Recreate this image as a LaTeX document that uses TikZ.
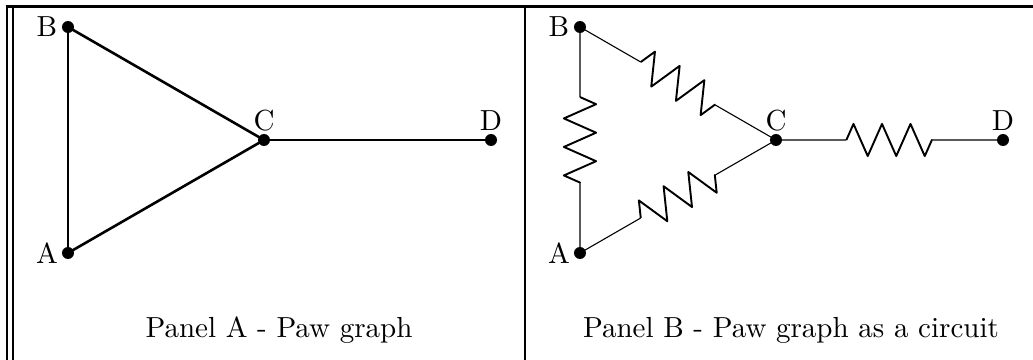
\documentclass[tikz,border=0pt]{standalone}
\usetikzlibrary{calc,decorations.pathmorphing}

\tikzset{
  vertex/.style={circle,fill=black,inner sep=0pt,minimum size=4.4pt},
  edgeline/.style={line width=0.95pt},
  wire/.style={line width=0.4pt},
  resistor/.style={line width=0.7pt,line join=round,decorate,decoration={zigzag,amplitude=5.9pt,segment length=10.45pt}},
  framing/.style={line width=0.8pt},
  vlabel/.style={inner sep=0pt,font=\fontsize{10.64}{12}\selectfont,anchor=base},
  caption/.style={inner sep=0pt,font=\fontsize{10.64}{12}\selectfont,anchor=base},
}

\begin{document}
\begin{tikzpicture}[x=0.3666pt,y=-0.3666pt]
\useasboundingbox (0,0) rectangle (1033,360);
% frame
\coordinate (tl) at (6,6.5);
\coordinate (tr) at (1033,6.5);
\coordinate (ol) at (7,6);
\coordinate (bl) at (7,360);
\coordinate (il) at (13,6);
\coordinate (ib) at (13,360);
\coordinate (mt) at (525,6);
\coordinate (mb) at (525,360);
\draw[framing,line width=1.1pt] (tl) -- (tr);
\draw[framing] (ol) -- (bl);
\draw[framing] (il) -- (ib);
\draw[framing] (mt) -- (mb);
% panel A
\node[vertex] (a1) at (68,253) {};
\node[vertex] (b1) at (68,27) {};
\node[vertex] (c1) at (264,140) {};
\node[vertex] (d1) at (491,140) {};
\node[vlabel] (la1) at (47,263) {A};
\node[vlabel] (lb1) at (47,37) {B};
\node[vlabel] (lc1) at (264,130) {C};
\node[vlabel] (ld1) at (491,130) {D};
\draw[edgeline] (a1.center) -- (b1.center);
\draw[edgeline] (b1.center) -- (c1.center);
\draw[edgeline] (a1.center) -- (c1.center);
\draw[edgeline] (c1.center) -- (d1.center);
\node[caption] (capa) at (279,337) {Panel A - Paw graph};
% panel B
\node[vertex] (a2) at (580,253) {};
\node[vertex] (b2) at (580,27) {};
\node[vertex] (c2) at (776,140) {};
\node[vertex] (d2) at (1003,140) {};
\node[vlabel] (la2) at (559,263) {A};
\node[vlabel] (lb2) at (559,37) {B};
\node[vlabel] (lc2) at (776,130) {C};
\node[vlabel] (ld2) at (1003,130) {D};
\coordinate (ba1) at ($(b2)!0.31!(a2)$);
\coordinate (ba2) at ($(b2)!0.69!(a2)$);
\coordinate (bc1) at ($(b2)!0.31!(c2)$);
\coordinate (bc2) at ($(b2)!0.69!(c2)$);
\coordinate (ac1) at ($(a2)!0.31!(c2)$);
\coordinate (ac2) at ($(a2)!0.69!(c2)$);
\coordinate (cd1) at ($(c2)!0.31!(d2)$);
\coordinate (cd2) at ($(c2)!0.69!(d2)$);
\draw[wire] (b2.center) -- (ba1) (ba2) -- (a2.center);
\draw[wire] (b2.center) -- (bc1) (bc2) -- (c2.center);
\draw[wire] (a2.center) -- (ac1) (ac2) -- (c2.center);
\draw[wire] (c2.center) -- (cd1) (cd2) -- (d2.center);
\draw[resistor] (ba1) -- (ba2);
\draw[resistor] (bc1) -- (bc2);
\draw[resistor] (ac1) -- (ac2);
\draw[resistor] (cd1) -- (cd2);
\node[caption] (capb) at (791,337) {Panel B - Paw graph as a circuit};
\end{tikzpicture}
\end{document}
